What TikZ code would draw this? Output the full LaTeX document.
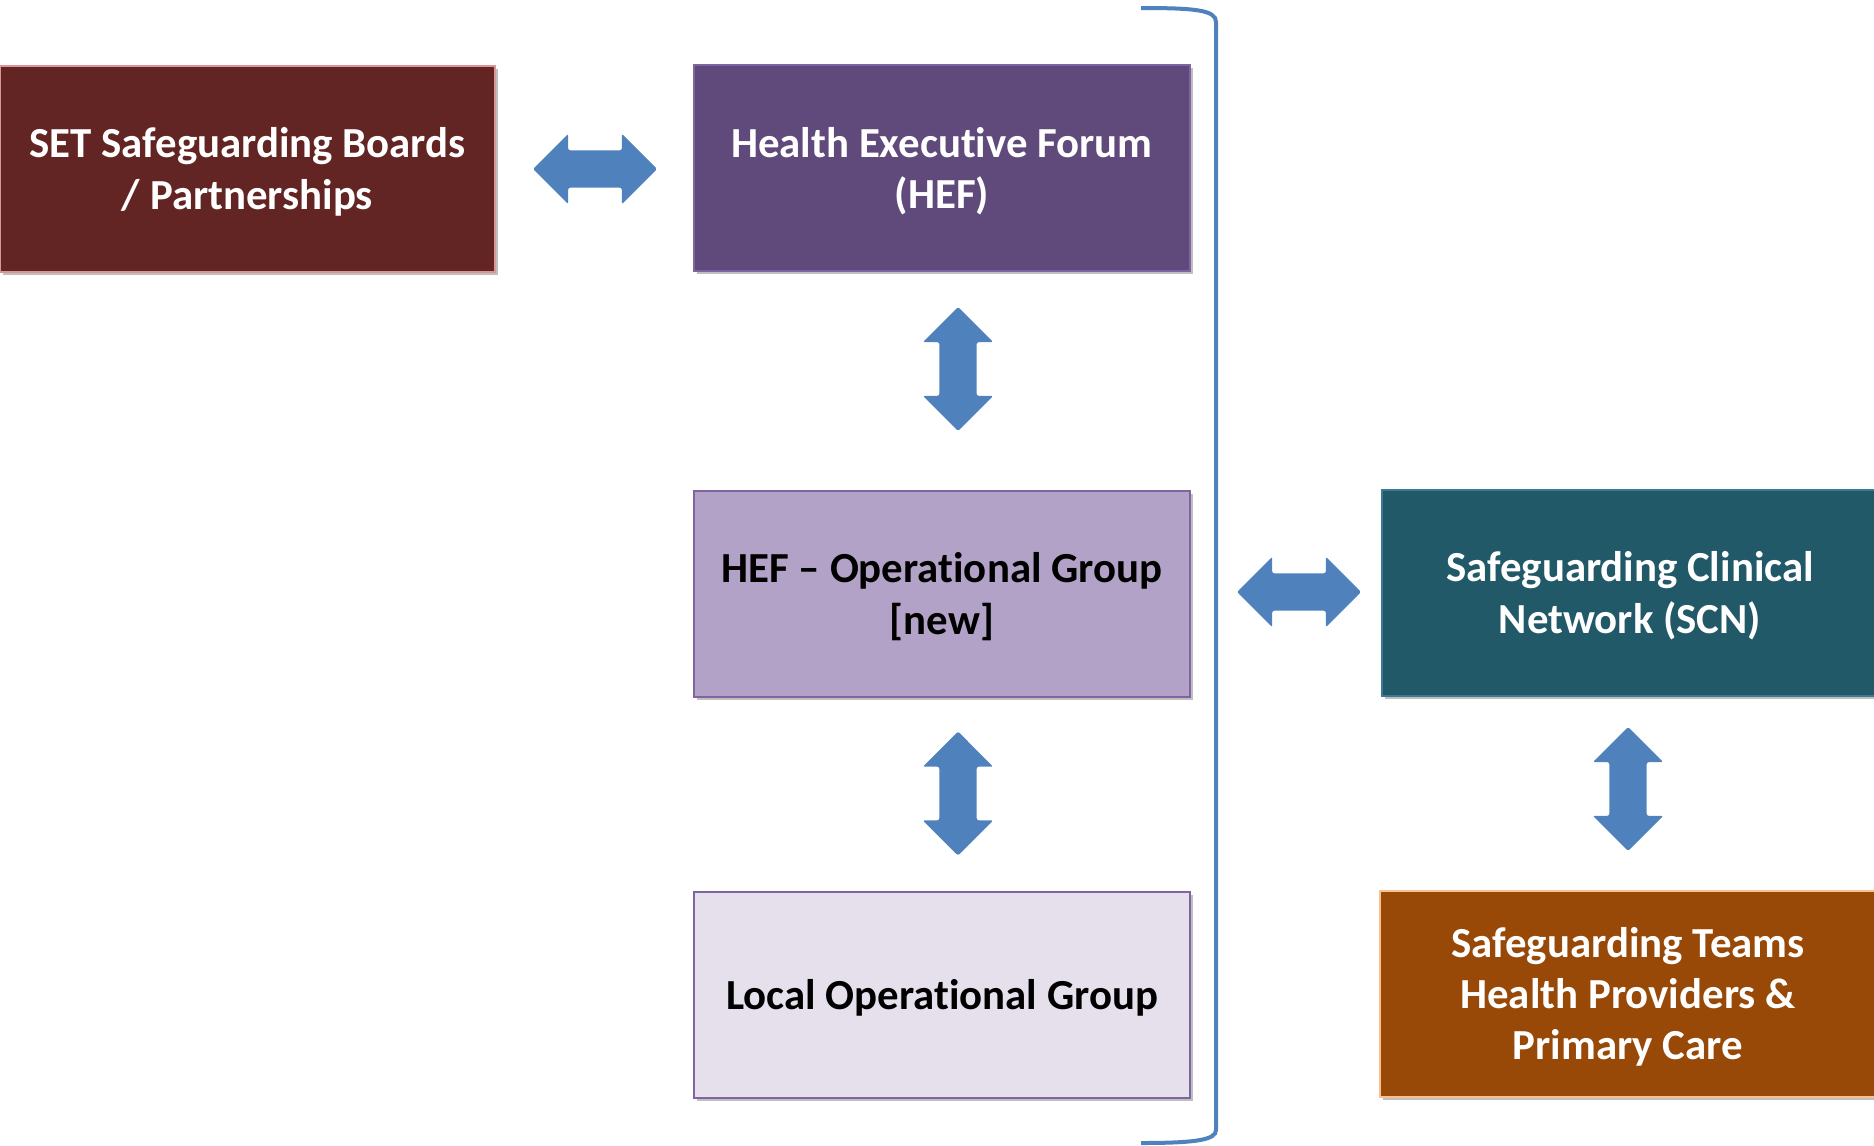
\documentclass[tikz,border=0pt]{standalone}
\usepackage{fontspec}
\setmainfont{Carlito}[Ligatures=NoCommon]
\usetikzlibrary{shapes.arrows,shadows}
\definecolor{setred}{HTML}{632523}
\definecolor{setborder}{HTML}{D99694}
\definecolor{hefpurple}{HTML}{604A7B}
\definecolor{purpleborder}{HTML}{8064A2}
\definecolor{oglilac}{HTML}{B3A2C7}
\definecolor{locallilac}{HTML}{E5E0EC}
\definecolor{scnteal}{HTML}{215968}
\definecolor{scnborder}{HTML}{3A7A95}
\definecolor{teamsbrown}{HTML}{984807}
\definecolor{teamsborder}{HTML}{FAC090}
\definecolor{arrowblue}{HTML}{4F81BD}
\newcommand{\topstr}{\rule{0pt}{42bp}}
\newcommand{\botstr}{\rule[-12bp]{0pt}{12bp}}
\begin{document}
\begin{tikzpicture}[x=1bp,y=-1bp,
  box/.style={draw, line width=2bp, minimum width=496bp, minimum height=206bp,
    align=center, inner sep=0pt, font=\bfseries\fontsize{43}{51.5}\selectfont,
    drop shadow={opacity=0.25, shadow xshift=3bp, shadow yshift=-3bp, fill=black}},
  dbl/.style={double arrow, fill=arrowblue, draw=none, minimum height=124bp,
    minimum width=70bp, inner sep=18.5bp, double arrow head extend=16.5bp,
    rounded corners=2bp},
  brack/.style={draw=arrowblue, line width=4bp}]
\useasboundingbox (0,0) rectangle (1874,1145);
\node[box, fill=setred, draw=setborder, text=white, minimum width=495bp] (set) at (247.5,168.5) {\topstr SET Safeguarding Boards\\/ Partnerships\botstr};
\node[box, fill=hefpurple, draw=purpleborder, text=white] (hef) at (942,168) {\topstr Health Executive Forum\\(HEF)\botstr};
\node[box, fill=oglilac, draw=purpleborder, text=black] (og) at (942,593.5) {\topstr HEF – Operational Group\\{[new]}\botstr};
\node[box, fill=locallilac, draw=purpleborder, text=black] (local) at (942,994.5) {\topstr Local Operational Group\botstr};
\node[box, fill=scnteal, draw=scnborder, text=white] (scn) at (1630,592.5) {\topstr Safeguarding Clinical\\Network (SCN)\botstr};
\node[box, fill=teamsbrown, draw=teamsborder, text=white] (teams) at (1628,993.5) {\topstr Safeguarding Teams\\Health Providers \&\\Primary Care\botstr};
\node[dbl] (a1) at (595,169) {};
\node[dbl, rotate=90] (a2) at (958,369) {};
\node[dbl, rotate=90] (a3) at (958,793.5) {};
\node[dbl] (a4) at (1299,592) {};
\node[dbl, rotate=90] (a5) at (1628,789) {};
\draw[brack] (1141,8) .. controls (1195,8) and (1216,10) .. (1216,22) -- (1216,1130) .. controls (1216,1140) and (1195,1143) .. (1141,1143);
\end{tikzpicture}
\end{document}
